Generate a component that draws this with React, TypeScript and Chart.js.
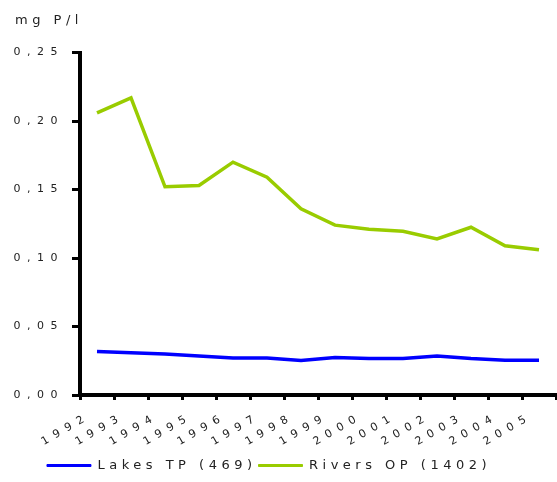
import React, { useEffect, useRef } from "react";
import { Chart, registerables } from "chart.js";

Chart.register(...registerables);

const years = ["1992", "1993", "1994", "1995", "1996", "1997", "1998", "1999", "2000", "2001", "2002", "2003", "2004", "2005"];
const lakesTP = [0.0317, 0.0308, 0.0299, 0.0284, 0.027, 0.027, 0.0252, 0.0274, 0.0266, 0.0266, 0.0284, 0.0266, 0.0254, 0.0254];
const riversOP = [0.206, 0.217, 0.152, 0.153, 0.170, 0.159, 0.136, 0.124, 0.121, 0.1195, 0.114, 0.1225, 0.109, 0.106];
const yTickLabels = ["0,00", "0,05", "0,10", "0,15", "0,20", "0,25"];
const seriesNames = ["Lakes TP (469)", "Rivers OP (1402)"];
const unitLabel = "mg P/l";

const FONT = "DejaVu Sans";
const TEXT = "#222";
const BOX_SPACING = "4.5px";
const TICK_SPACING = "6.5px";

const spacingPlugin = {
  id: "letterSpacing",
  beforeLayout(chart: any) {
    chart.ctx.letterSpacing = BOX_SPACING;
  },
  afterLayout(chart: any) {
    const lg = chart.legend;
    if (lg) {
      lg.left -= 13;
      lg.right -= 13;
    }
    const tb = chart.titleBlock;
    if (tb) {
      tb.left += 7;
      tb.right += 7;
    }
  },
  beforeDraw(chart: any) {
    chart.ctx.letterSpacing = BOX_SPACING;
  },
  afterDatasetsDraw(chart: any) {
    chart.ctx.letterSpacing = TICK_SPACING;
  },
};

export default function App() {
  const ref = useRef<HTMLCanvasElement>(null);
  useEffect(() => {
    document.body.style.margin = "0";
    const canvas = ref.current!;
    const chart = new Chart(canvas, {
      type: "line",
      data: {
        labels: years,
        datasets: [
          {
            label: seriesNames[0],
            data: lakesTP,
            borderColor: "#0000ff",
            backgroundColor: "#0000ff",
            borderWidth: 3.5,
            pointRadius: 0,
            tension: 0,
          },
          {
            label: seriesNames[1],
            data: riversOP,
            borderColor: "#99cc00",
            backgroundColor: "#99cc00",
            borderWidth: 3.5,
            pointRadius: 0,
            tension: 0,
          },
        ],
      },
      options: {
        responsive: false,
        animation: false,
        devicePixelRatio: 1,
        layout: { padding: { left: 8, right: 1, top: 0, bottom: 0 } },
        scales: {
          x: {
            type: "category",
            offset: true,
            grid: { display: true, drawOnChartArea: false, drawTicks: true, tickLength: 5, color: "#000", lineWidth: 3, offset: true, z: -1 },
            border: { display: true, color: "#000", width: 4, z: 0 },
            ticks: {
              z: 1,
              autoSkip: false,
              maxRotation: 30,
              minRotation: 30,
              labelOffset: -8,
              padding: 10,
              color: TEXT,
              font: { family: FONT, size: 11 },
            },
            afterFit: (scale: any) => {
              scale.height = 62;
              scale.paddingLeft = 0;
              scale.paddingRight = 0;
            },
          },
          y: {
            min: 0,
            max: 0.25,
            grid: { display: true, drawOnChartArea: false, drawTicks: true, tickLength: 8, color: "#000", lineWidth: 3, z: -1 },
            border: { display: true, color: "#000", width: 4, z: 0 },
            ticks: {
              z: 2,
              stepSize: 0.05,
              padding: 8,
              color: TEXT,
              font: { family: FONT, size: 11 },
              callback: (_v: any, i: number) => yTickLabels[i],
            },
            afterFit: (scale: any) => {
              scale.width = 72;
            },
          },
        },
        plugins: {
          title: {
            display: true,
            text: unitLabel,
            align: "start",
            color: TEXT,
            font: { family: FONT, size: 13, weight: "normal" },
            padding: { top: 13, bottom: 24 },
          },
          legend: {
            position: "bottom",
            labels: {
              boxWidth: 44,
              boxHeight: 2,
              padding: 2,
              color: TEXT,
              font: { family: FONT, size: 13 },
              generateLabels: (c: any) =>
                Chart.defaults.plugins.legend.labels.generateLabels(c).map((l: any) => ({ ...l, lineWidth: 1 })),
            },
          },
          tooltip: { enabled: false },
        },
      },
      plugins: [spacingPlugin],
    } as any);
    return () => chart.destroy();
  }, []);
  return <canvas ref={ref} width={557} height={482} style={{ display: "block" }} />;
}
